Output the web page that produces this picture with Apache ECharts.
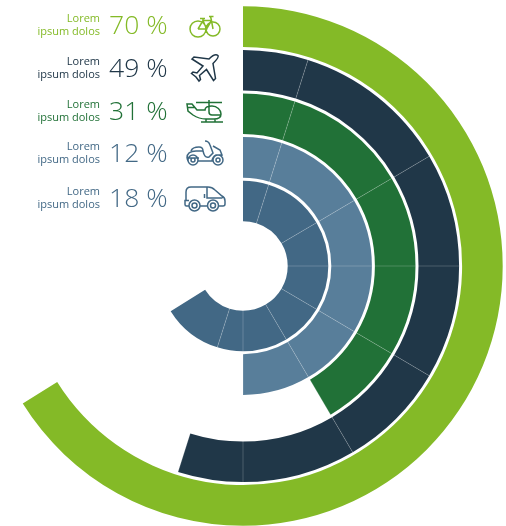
<!DOCTYPE html>
<html><head><meta charset="utf-8">
<style>html,body{margin:0;padding:0;background:#fff}#c{width:506px;height:526px}</style>
<script src="https://cdn.jsdelivr.net/npm/echarts@6/dist/echarts.min.js"></script></head>
<body><div id="c"></div>
<script>
// rings from the centre outwards
const rings = ['Van', 'Scooter', 'Helicopter', 'Plane', 'Bike'];
const ringColors = ['#426885', '#587E9A', '#217137', '#203748', '#84BA27'];
// sweep of each ring split into its segments (degrees, clockwise from 12 o'clock)
const vanSegments = [17.5, 42, 30.5, 30.5, 29, 30.5, 17.5, 40.5];
const scooterSegments = [17.5, 42, 30.5, 30.5, 29, 30.5];
const helicopterSegments = [17.5, 42, 30.5, 30.5, 29];
const planeSegments = [17.5, 42, 30.5, 30.5, 29, 30.5, 17.5];
const bikeSegments = [238];
const separatorAngles = [17.5, 59.5, 90, 120.5, 149.5, 180, 197.5];

// side panel (listed top to bottom)
const panelTitles = ['Lorem', 'Lorem', 'Lorem', 'Lorem', 'Lorem'];
const panelSubtitles = ['ipsum dolos', 'ipsum dolos', 'ipsum dolos', 'ipsum dolos', 'ipsum dolos'];
const panelValues = ['70 %', '49 %', '31 %', '12 %', '18 %'];
const panelColors = ['#84BA27', '#203748', '#217137', '#426885', '#426885'];
const panelTitleY = [19, 62, 105, 147, 192];
const panelValueY = [26, 69, 112, 154, 199];

const iconPaths = [
 {c:'#84BA27', d:'M206,29 A8,8 0 1 1 190,29 A8,8 0 1 1 206,29 Z M220,29 A7,7 0 1 1 206,29 A7,7 0 1 1 220,29 Z M198,29 L203,20.5 L211.5,20.5 L213,29 M203,20.5 L206.5,29 L198,29 M206.5,29 L211.5,20.5 M200,18.5 L205,18.5 M203,18.5 L203,20.5 M209,16.5 L213.5,16.5 M210.5,16.5 L211.5,20.5'},
 {c:'#203748', d:'M218,55.5 C216,54 212,56 209,59 L194,57 L192,59 L203,66 L197,73 L193,72 L191.5,73.5 L196,77 L199,81 L200.5,79.5 L199.5,75.5 L206.5,69.5 L213.5,80.5 L215.5,78.5 L213,63.5 C216,60.5 219,57 218,55.5 Z'},
 {c:'#217137', d:'M187,104 L192,104 L197,110 L205,110 C205,107 208,106 212,106 C217,106 221,110 221,114 C221,118 218,119 214,119 L206,119 C201,119 196,117 193,115 L188,111 Z M209,106 L209,112 C209,114 210,115 212,115 L221,115 M196,102.5 L222,102.5 M209,100 L209,106 M201,122 L223,122 M206,119 L206,122 M215,119 L215,122 M187,107.5 L195,107.5'},
 {c:'#426885', d:'M187,158 C187,153 191,151 196,151 L203,151 C204,155 205,158 209,157 L213,153 L210,145 C209,142 207,141 205,141 M213,146 L220,150 L222,155 L216,155 C213,156 212,160 212,161 L198,161 M187,158 L188,161 M191,151 C192,148 195,147 199,147 C202,147 203,149 203,151 M187,158 L199,158 M198,160 A5,5 0 1 1 188,160 A5,5 0 1 1 198,160 Z M223,160 A5,5 0 1 1 213,160 A5,5 0 1 1 223,160 Z M195,160 A2,2 0 1 1 191,160 A2,2 0 1 1 195,160 Z M220,160 A2,2 0 1 1 216,160 A2,2 0 1 1 220,160 Z'},
 {c:'#426885', d:'M189,206 L186.5,206 C185.5,206 185,205.5 185,204.5 L185,200.5 L189,200.5 M186,200.5 L186,192 C186,189 188,187 191,187 L208,187 C211,187 213,188 215,190 L222,196 C224,197 225,199 225,201 L225,204 C225,205 224,206 223,206 L218.5,206 M207.5,206 L200,206 M207,187 L207,198 L222.5,198 M204.5,194 L204.5,198 M200,205.5 A5.5,5.5 0 1 1 189,205.5 A5.5,5.5 0 1 1 200,205.5 Z M218.5,205.5 A5.5,5.5 0 1 1 207.5,205.5 A5.5,5.5 0 1 1 218.5,205.5 Z M197,205.5 A2.5,2.5 0 1 1 192,205.5 A2.5,2.5 0 1 1 197,205.5 Z M215.5,205.5 A2.5,2.5 0 1 1 210.5,205.5 A2.5,2.5 0 1 1 215.5,205.5 Z'}
];

const segmentTable = [vanSegments, scooterSegments, helicopterSegments, planeSegments];
const segCount = Math.max(...segmentTable.map(s => s.length));
const series = [];
for (let i = 0; i < segCount; i++) {
  series.push({
    type: 'bar', coordinateSystem: 'polar', stack: 'ring', barWidth: 40.6, z: 2, silent: true,
    data: segmentTable.map((seg, r) => seg[i] == null ? null : {value: seg[i], itemStyle: {color: ringColors[r]}}).concat([null])
  });
}
// outer ring sits above the separators
series.push({
  type: 'bar', coordinateSystem: 'polar', stack: 'ring', barWidth: 40.6, z: 6, silent: true,
  data: rings.map((_, r) => r === 4 ? {value: bikeSegments[0], itemStyle: {color: ringColors[4]}} : null)
});
// transport icons
series.push({
  type: 'custom', coordinateSystem: 'none', silent: true, z: 8,
  data: iconPaths.map((_, i) => [i]),
  renderItem: (params) => {
    const ic = iconPaths[params.dataIndex];
    return {type:'path', shape:{pathData:ic.d}, style:{fill:'none', stroke:ic.c, lineWidth:1.5}};
  }
});

const graphic = [];
panelValues.forEach((v, i) => {
  graphic.push({type:'text', silent:true, style:{text:panelTitles[i], x:100, y:panelTitleY[i], align:'right', verticalAlign:'middle', fill:panelColors[i], font:'11px "Open Sans"'}});
  graphic.push({type:'text', silent:true, style:{text:panelSubtitles[i], x:100, y:panelTitleY[i]+12.5, align:'right', verticalAlign:'middle', fill:panelColors[i], font:'11px "Open Sans"'}});
  graphic.push({type:'text', silent:true, style:{text:v, x:109, y:panelValueY[i], align:'left', verticalAlign:'middle', fill:panelColors[i], font:'300 26.5px "Open Sans"'}});
});

const chart = echarts.init(document.getElementById('c'), null, {renderer:'canvas'});
chart.setOption({
  animation: false,
  backgroundColor: '#ffffff',
  polar: {center: [243, 266], radius: [43.2, 261.2]},
  angleAxis: {
    type: 'value', min: 0, max: 360, startAngle: 90, clockwise: true, z: 4,
    axisLine: {show:false}, axisLabel: {show:false},
    axisTick: {show:false, customValues: separatorAngles},
    splitLine: {show:true, lineStyle:{color:'rgba(255,255,255,0.25)', width:0.8}}
  },
  radiusAxis: {
    type: 'category', data: rings, boundaryGap: true,
    axisLine:{show:false}, axisTick:{show:false}, axisLabel:{show:false}, splitLine:{show:false}
  },
  series,
  graphic
});
</script></body></html>
